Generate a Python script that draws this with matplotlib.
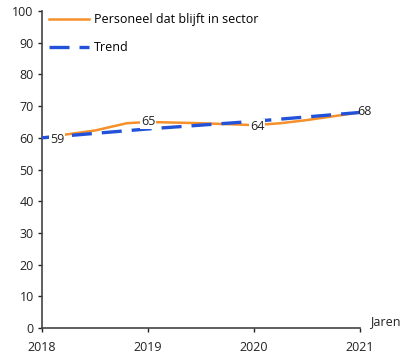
import matplotlib
matplotlib.use("Agg")
import matplotlib.pyplot as plt

plt.rcParams['font.family'] = ['Open Sans', 'DejaVu Sans']

years = [2018, 2019, 2020, 2021]
# Orange series sampled along the drawn line
pers_x = [2018.0, 2018.5, 2018.8, 2019.0, 2019.5, 2020.0, 2020.25, 2020.5, 2021.0]
pers_y = [60.0, 62.3, 64.6, 65.0, 64.6, 64.0, 64.6, 65.6, 68.0]
label_x = [2018, 2019, 2020, 2021]
label_y = [59.4, 65.2, 63.5, 68.3]
label_txt = ["59", "65", "64", "68"]
trend_x = [2018, 2019, 2020, 2021]
trend_y = [60.0, 62.8, 65.2, 68.0]

orange = "#F5902A"
blue = "#2152D9"

fig = plt.figure(figsize=(4.13, 3.62), dpi=100)
ax = fig.add_axes([0.1017, 0.0939, 0.77, 0.8757])

ax.plot(pers_x, pers_y, color=orange, lw=1.8, label="Personeel dat blijft in sector", zorder=3)
ax.plot(trend_x, trend_y, color=blue, lw=2.4, dashes=(6, 3), label="Trend", zorder=4)

offsets = [(0.14, 0), (0.0, 0), (0.03, 0), (0.04, 0)]
for x, y, t, (dx, dy) in zip(label_x, label_y, label_txt, offsets):
    ax.text(x + dx, y + dy, t, ha="center", va="center", fontsize=9,
            color="#222222", zorder=5,
            bbox=dict(facecolor="white", edgecolor="none", pad=0.5) if t != "68" else None)

ax.set_xlim(2018, 2021)
ax.set_ylim(0, 100)
ax.set_xticks(years)
ax.set_yticks(range(0, 101, 10))
ax.tick_params(axis="both", labelsize=9, colors="#222222", length=3, width=1, pad=3)
ax.tick_params(axis="x", pad=6)
for s in ["top", "right"]:
    ax.spines[s].set_visible(False)
for s in ["left", "bottom"]:
    ax.spines[s].set_color("#444444")
    ax.spines[s].set_linewidth(1.2)

ax.text(1.03, 0.0, "Jaren", transform=ax.transAxes, fontsize=9, color="#222222",
        ha="left", va="bottom")

leg = ax.legend(loc="upper left", bbox_to_anchor=(-0.005, 1.02), frameon=False, fontsize=9,
                handlelength=3.2, handletextpad=0.4, labelspacing=1.2, borderaxespad=0.3)

fig.savefig("out.png", dpi=100)
